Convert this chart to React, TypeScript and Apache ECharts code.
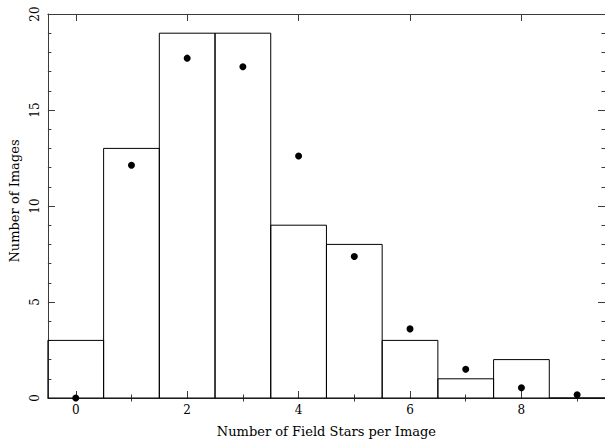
import React, { useEffect, useRef } from "react";
import * as echarts from "echarts";

// Histogram of field-star counts per image, with expected counts as dots
const starCounts = [0, 1, 2, 3, 4, 5, 6, 7, 8, 9];
const imageCounts = [3, 13, 19, 19, 9, 8, 3, 1, 2, 0];
const expectedCounts = [0, 12.12, 17.7, 17.25, 12.6, 7.37, 3.6, 1.5, 0.53, 0.17];
const majorXTicks = [0, 2, 4, 6, 8];
const minorXTicks = [1, 3, 5, 7, 9];

const FONT = "DejaVu Serif";
const AXIS_COLOR = "#3a3a3a";

export default function App() {
  const ref = useRef<HTMLDivElement>(null);

  useEffect(() => {
    if (!ref.current) return;
    const chart = echarts.init(ref.current, null, { renderer: "svg" });

    const xBase = {
      type: "value",
      min: -0.5,
      max: 9.5,
      splitLine: { show: false },
    };

    const yBase = {
      type: "value",
      min: 0,
      max: 20,
      interval: 5,
      splitLine: { show: false },
      axisLine: { show: true, onZero: false, lineStyle: { color: AXIS_COLOR, width: 1 } },
      axisTick: { inside: true, length: 7, lineStyle: { color: AXIS_COLOR } },
      minorTick: { show: true, splitNumber: 5, length: 3.5, lineStyle: { color: AXIS_COLOR } },
    };

    chart.setOption({
      animation: false,
      backgroundColor: "#ffffff",
      grid: { left: 45, right: 0, top: 14, bottom: 41 },
      xAxis: [
        {
          ...xBase,
          position: "bottom",
          name: "Number of Field Stars per Image",
          nameLocation: "middle",
          nameGap: 27,
          nameTextStyle: { fontFamily: FONT, fontSize: 13, color: "#000" },
          axisLine: { show: true, onZero: false, lineStyle: { color: AXIS_COLOR, width: 1 } },
          axisTick: { inside: true, length: 7, customValues: majorXTicks, lineStyle: { color: AXIS_COLOR } },
          axisLabel: { customValues: majorXTicks, margin: 6, fontFamily: FONT, fontSize: 12, color: "#000" },
        },
        {
          ...xBase,
          position: "bottom",
          axisLine: { show: false },
          axisTick: { inside: true, length: 3.5, customValues: minorXTicks, lineStyle: { color: AXIS_COLOR } },
          axisLabel: { show: false },
        },
        {
          ...xBase,
          position: "top",
          axisLine: { show: true, onZero: false, lineStyle: { color: AXIS_COLOR, width: 1 } },
          axisTick: { inside: true, length: 7, customValues: majorXTicks, lineStyle: { color: AXIS_COLOR } },
          axisLabel: { show: false },
        },
        {
          ...xBase,
          position: "top",
          axisLine: { show: false },
          axisTick: { inside: true, length: 3.5, customValues: minorXTicks, lineStyle: { color: AXIS_COLOR } },
          axisLabel: { show: false },
        },
      ],
      yAxis: [
        {
          ...yBase,
          position: "left",
          name: "Number of Images",
          nameLocation: "middle",
          nameRotate: 90,
          nameGap: 24,
          nameTextStyle: { fontFamily: FONT, fontSize: 13, color: "#000", padding: [0, 0, 0, 10] },
          axisLabel: { rotate: 90, margin: 7, fontFamily: FONT, fontSize: 12, color: "#000" },
        },
        {
          ...yBase,
          position: "right",
          axisLabel: { show: false },
        },
      ],
      series: [
        {
          type: "custom",
          xAxisIndex: 0,
          yAxisIndex: 0,
          data: starCounts.map((s, i) => [s, imageCounts[i]]),
          renderItem: (params: any, api: any) => {
            const x = api.value(0);
            const v = api.value(1);
            const p0 = api.coord([x - 0.5, v]);
            const p1 = api.coord([x + 0.5, 0]);
            return {
              type: "rect",
              shape: { x: p0[0], y: p0[1], width: p1[0] - p0[0], height: p1[1] - p0[1] },
              style: { fill: "none", stroke: "#000", lineWidth: 1 },
            };
          },
          z: 2,
        },
        {
          type: "scatter",
          xAxisIndex: 0,
          yAxisIndex: 0,
          data: starCounts.map((s, i) => [s, expectedCounts[i]]),
          symbol: "circle",
          symbolSize: 7,
          itemStyle: { color: "#000", opacity: 1 },
          z: 3,
        },
      ],
    });

    return () => chart.dispose();
  }, []);

  return (
    <div
      ref={ref}
      style={{ position: "fixed", left: 0, top: 0, width: 605, height: 443, background: "#fff" }}
    />
  );
}
